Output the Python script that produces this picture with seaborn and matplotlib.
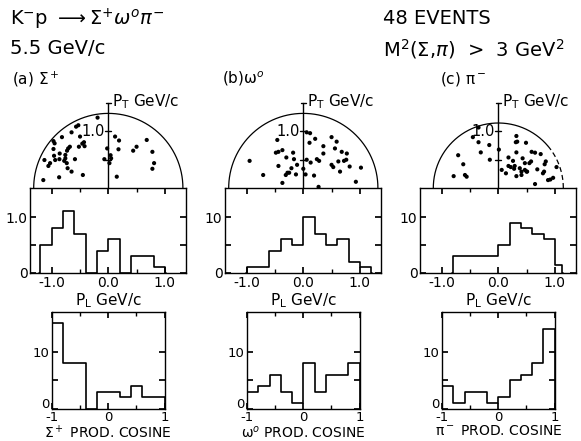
import numpy as np
import pandas as pd
import matplotlib
matplotlib.use("Agg")
import matplotlib.pyplot as plt
import matplotlib.transforms as mtransforms
import seaborn as sns

# ---------------- data ----------------
# P_L histograms (events per bin)
pl_edges_sigma = [-1.2, -1.0, -0.8, -0.6, -0.4, -0.2, 0.0, 0.2, 0.4, 0.6, 0.8, 1.0]
pl_counts_sigma = [5, 8, 11, 7, 0, 4, 6, 0, 3, 3, 1]
pl_edges_omega = [-1.0, -0.8, -0.6, -0.4, -0.2, 0.0, 0.2, 0.4, 0.6, 0.8, 1.0, 1.2]
pl_counts_omega = [1, 1, 4, 6, 5, 10, 7, 5, 6, 2, 1]
pl_edges_pi = [-0.8, -0.6, -0.4, -0.2, 0.0, 0.2, 0.4, 0.6, 0.8, 1.0, 1.12]
pl_counts_pi = [3, 3, 3, 3, 5, 9, 8, 7, 6, 1.5]

# production cosine histograms
cos_edges = [-1.0, -0.8, -0.6, -0.4, -0.2, 0.0, 0.2, 0.4, 0.6, 0.8, 1.0]
cos_counts_sigma = [15, 8, 8, 0, 3, 3, 2, 4, 2, 2]
cos_counts_omega = [3, 4, 6, 3, 1, 8, 3, 6, 6, 8]
cos_counts_pi = [4, 1, 3, 3, 1, 2, 5, 6, 8, 14]

# Peyrou plot points (P_L, P_T) in GeV/c
sigma_pl = [-0.19, -0.53, -0.57, -0.65, -0.82, -0.50, -0.97, -0.95, -0.43, -0.46,
            -0.68, -0.71, -0.97, -0.52, -0.76, -1.13, -1.03, -1.06, -0.96, -0.94,
            -0.865, -0.78, -0.735, -0.59, -0.72, -0.65, -0.87, -1.15, -0.45,
            0.12, 0.19, -0.02, 0.18, -0.07, 0.05, 0.02, 0.15, 0.44, 0.50, 0.68,
            0.78, 0.81, 0.78, -0.42, -0.86, -0.73, -0.76, 0.04]
sigma_pt = [1.245, 1.11, 1.085, 0.985, 0.90, 0.91, 0.83, 0.79, 0.81, 0.785,
            0.73, 0.70, 0.69, 0.73, 0.585, 0.495, 0.44, 0.39, 0.57, 0.495,
            0.51, 0.48, 0.44, 0.51, 0.35, 0.29, 0.19, 0.14, 0.23,
            0.91, 0.84, 0.70, 0.685, 0.51, 0.525, 0.44, 0.20, 0.66, 0.73, 0.85,
            0.64, 0.44, 0.34, 0.74, 0.61, 0.66, 0.525, 0.58]
omega_pl = [0.06, 0.12, -0.46, 0.11, 0.21, 0.50, 0.59, 0.355, 0.56, -0.37,
            -0.44, -0.485, -0.18, 0.355, -0.30, -0.165, 0.68, 0.77, -0.95, 0.06,
            0.24, 0.28, -0.11, -0.21, -0.44, 0.13, 0.0, 0.50, 0.53, 0.62,
            0.72, 0.76, 0.82, 1.02, -0.28, -0.31, -0.25, -0.13, 0.04, 0.19,
            -0.71, 0.65, -0.37, 0.27, 0.93]
omega_pt = [0.985, 0.97, 0.85, 0.80, 0.87, 0.90, 0.82, 0.74, 0.70, 0.67,
            0.64, 0.625, 0.625, 0.61, 0.54, 0.51, 0.64, 0.61, 0.48, 0.50,
            0.51, 0.48, 0.41, 0.35, 0.39, 0.45, 0.34, 0.41, 0.37, 0.47,
            0.48, 0.50, 0.38, 0.36, 0.27, 0.23, 0.27, 0.24, 0.24, 0.22,
            0.23, 0.29, 0.09, 0.02, 0.11]
pi_pl = [-0.35, -0.45, -0.35, -0.16, -0.31, 0.01, 0.32, 0.335, 0.31, 0.49,
         0.32, 0.59, 0.65, 0.75, -0.71, -0.15, -0.62, 0.18, 0.26, 0.18,
         0.43, 0.47, 0.55, 0.58, 0.84, 0.82, 0.06, 0.135, 0.22, 0.29,
         0.28, 0.38, 0.41, 0.47, 0.50, 0.69, 0.81, 1.03, -0.79, -0.59,
         -0.56, 0.32, 0.41, 0.51, 0.65, 0.79, 0.88, 0.92, 0.97]
pi_pt = [1.07, 0.90, 0.81, 0.76, 0.63, 0.68, 0.92, 0.82, 0.81, 0.80,
         0.63, 0.64, 0.625, 0.60, 0.58, 0.50, 0.42, 0.54, 0.48, 0.39,
         0.525, 0.44, 0.44, 0.47, 0.47, 0.42, 0.32, 0.26, 0.37, 0.39,
         0.34, 0.35, 0.29, 0.32, 0.29, 0.33, 0.29, 0.37, 0.21, 0.23,
         0.20, 0.21, 0.23, 0.29, 0.07, 0.26, 0.14, 0.15, 0.18]

kin_radius = [1.32, 1.32, 1.15]      # kinematic limit of each Peyrou plot
pi_dashed_angle = 40                  # degrees, dashed part of pi boundary
pt_axis_top = 1.5

panel_labels = ["(a) Σ$^+$", "(b)ω$^o$", "(c) π$^-$"]
pl_ylabels = [["0", "", "1.0"], ["0", "", "10"], ["0", "", "10"]]
cos_xlabels = ["Σ$^+$ PROD. COSINE", "ω$^o$ PROD. COSINE", "π$^-$ PROD. COSINE"]

# ---------------- style ----------------
sns.set_theme(style="white")
plt.rcParams['font.family'] = ['DejaVu Sans']
plt.rcParams['mathtext.fontset'] = 'dejavusans'
plt.rcParams['text.color'] = 'black'
plt.rcParams['axes.labelcolor'] = 'black'
plt.rcParams['xtick.color'] = 'black'
plt.rcParams['ytick.color'] = 'black'

W, H = 581, 441
fig = plt.figure(figsize=(W / 100, H / 100), dpi=100)


def ax_px(x0, y_top, w, h):
    return fig.add_axes([x0 / W, 1 - (y_top + h) / H, w / W, h / H])


def step_hist(ax, edges, counts):
    edges = [float(v) for v in edges]
    counts = [float(v) for v in counts]
    d = 0.02
    e = [edges[0] - d] + edges + [edges[-1] + d]
    c = [0.0] + counts + [0.0]
    centers = [(a + b) / 2 for a, b in zip(e[:-1], e[1:])]
    df = pd.DataFrame({"x": centers, "w": c})
    sns.histplot(data=df, x="x", weights="w", bins=e, element="step",
                 fill=False, color="black", linewidth=1.2, ax=ax)


def frame(ax, labelsize=10):
    for s in ax.spines.values():
        s.set_visible(True)
        s.set_color("black")
        s.set_linewidth(1.0)
    ax.tick_params(which="both", direction="in", top=True, right=True,
                   bottom=True, left=True, color="black", labelcolor="black",
                   labelsize=labelsize, length=4, pad=2)
    ax.tick_params(which="minor", length=3)
    ax.set_ylabel("")


centers_px = [108.3, 303.3, 498.3]
mid_w, mid_h, mid_top = 156, 85, 188
half = 1.38
sc_h = 90
bot_w, bot_top, bot_h = 112.5, 312, 96.7

pl_sets = [(pl_edges_sigma, pl_counts_sigma), (pl_edges_omega, pl_counts_omega),
           (pl_edges_pi, pl_counts_pi)]
cos_sets = [cos_counts_sigma, cos_counts_omega, cos_counts_pi]
pts = [(sigma_pl, sigma_pt), (omega_pl, omega_pt), (pi_pl, pi_pt)]

for i in range(3):
    cx = centers_px[i]
    # ---- Peyrou plot ----
    ax0 = ax_px(cx - mid_w / 2, mid_top - sc_h, mid_w, sc_h)
    ax0.set_xlim(-half, half)
    ax0.set_ylim(0, 2 * half * sc_h / mid_w)
    ax0.axis("off")
    R = kin_radius[i]
    if i == 2:
        th1 = np.radians(np.linspace(pi_dashed_angle, 180, 200))
        ax0.plot(R * np.cos(th1), R * np.sin(th1), color="black", lw=0.9)
        th2 = np.radians(np.linspace(0, pi_dashed_angle, 60))
        ax0.plot(R * np.cos(th2), R * np.sin(th2), color="black", lw=0.9,
                 ls=(0, (4, 2.5)))
    else:
        th = np.radians(np.linspace(0, 180, 240))
        ax0.plot(R * np.cos(th), R * np.sin(th), color="black", lw=0.9)
    ax0.plot([0, 0], [0, pt_axis_top], color="black", lw=1.0)
    ax0.plot([-0.04, 0.04], [pt_axis_top, pt_axis_top], color="black", lw=1.0)
    for yt in (0.5, 1.0):
        ax0.plot([-0.05, 0.05], [yt, yt], color="black", lw=1.0)
    ax0.text(-0.06, 1.0, "1.0", ha="right", va="center", fontsize=10.5,
             color="black")
    ax0.text(0.06, pt_axis_top + 0.02, "P$_\\mathrm{T}$ GeV/c", ha="left",
             va="center", fontsize=11, color="black")
    sns.scatterplot(x=pts[i][0], y=pts[i][1], s=9, color="black",
                    edgecolor="none", legend=False, ax=ax0)

    # ---- P_L histogram ----
    ax1 = ax_px(cx - mid_w / 2, mid_top, mid_w, mid_h)
    step_hist(ax1, *pl_sets[i])
    ax1.set_xlim(-half, half)
    ax1.set_ylim(0, 15.2)
    ax1.set_xticks([-1, 0, 1])
    ax1.set_xticklabels(["-1.0", "0.0", "1.0"])
    ax1.set_xticks([-0.5, 0.5], minor=True)
    ax1.set_yticks([0, 5, 10])
    ax1.set_yticklabels(pl_ylabels[i])
    frame(ax1)
    ax1.set_xlabel("P$_\\mathrm{L}$ GeV/c", fontsize=11, labelpad=1,
                   color="black")

    # ---- production cosine histogram ----
    ax2 = ax_px(cx - bot_w / 2, bot_top, bot_w, bot_h)
    step_hist(ax2, cos_edges, cos_sets[i])
    ax2.set_xlim(-1, 1)
    ax2.set_ylim(0, 17)
    ax2.set_xticks([-1, 0, 1])
    ax2.set_xticklabels(["-1", "0", "1"])
    ax2.set_xticks([-0.5, 0.5], minor=True)
    ax2.set_yticks([0, 5, 10])
    ax2.set_yticklabels(["0", "", "10"])
    frame(ax2, labelsize=9.5)
    ax2.set_xlabel(cos_xlabels[i], fontsize=10, labelpad=0, color="black")
    # lift the "0" label a little so it sits above the "-1" x label
    zero_lbl = ax2.get_yticklabels()[0]
    zero_lbl.set_transform(zero_lbl.get_transform() +
                           mtransforms.ScaledTranslation(0, 6 / 100,
                                                         fig.dpi_scale_trans))

# ---------------- titles ----------------
def ftext(x, y, s, size, **kw):
    fig.text(x / W, 1 - y / H, s, fontsize=size, va="center", ha="left",
             color="black", **kw)

ftext(10, 19, "K$^{-}$p $\\longrightarrow\\Sigma^{+}\\omega^{o}\\pi^{-}$", 14)
ftext(10, 49, "5.5 GeV/c", 14)
ftext(383, 19, "48 EVENTS", 14)
ftext(383, 49, "M$^{2}$($\\Sigma$,$\\pi$)  >  3 GeV$^{2}$", 14)
ftext(12, 79, panel_labels[0], 11)
ftext(222, 79, panel_labels[1], 11)
ftext(440, 79, panel_labels[2], 11)

fig.savefig("out.png", dpi=100, facecolor="white")
